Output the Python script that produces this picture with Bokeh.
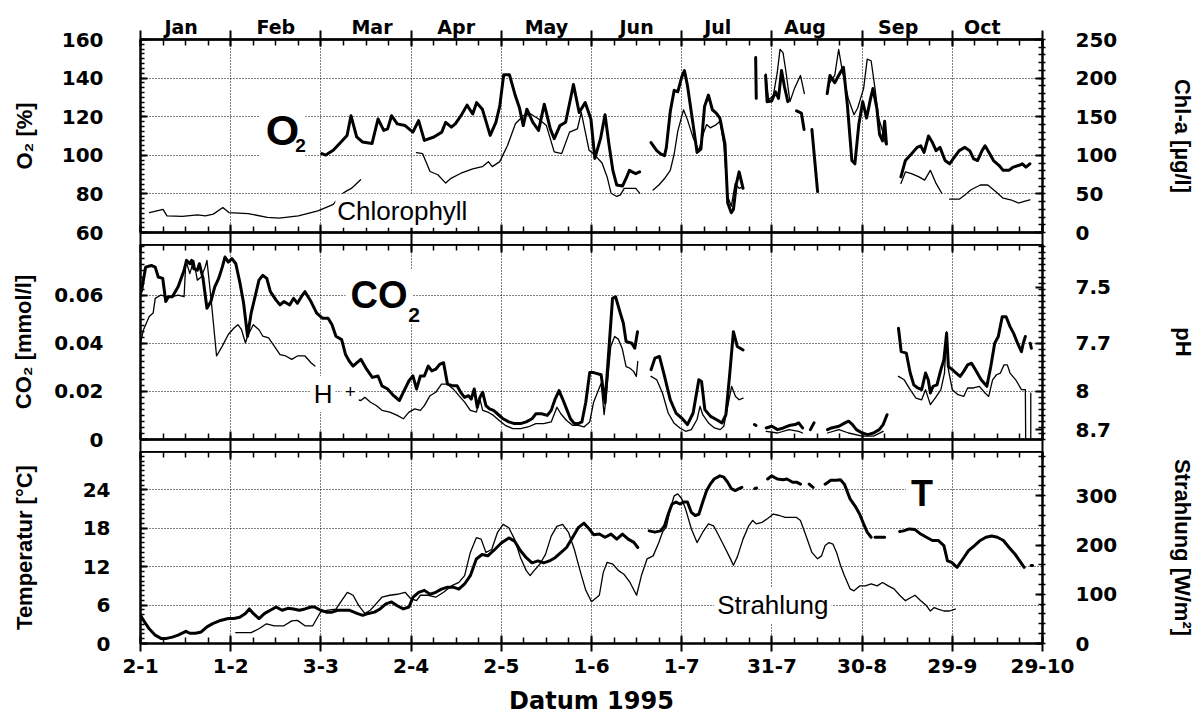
import math
from bokeh.plotting import figure
from bokeh.models import Range1d, LinearAxis, FixedTicker, Label
from bokeh.layouts import column
from bokeh.embed import file_html
from bokeh.resources import INLINE

NAN = float("nan")

# ---------------- ticks / labels ----------------
date_ticks = [2, 32, 62, 92, 122, 152, 182, 212, 242, 272, 302]
date_labels = ["2-1", "1-2", "3-3", "2-4", "2-5", "1-6", "1-7", "31-7", "30-8", "29-9", "29-10"]
months = ["Jan", "Feb", "Mar", "Apr", "May", "Jun", "Jul", "Aug", "Sep", "Oct"]
month_centre_day = [15.5, 47, 79, 107, 137, 167, 194, 223, 254, 282]

o2_ticks = [60, 80, 100, 120, 140, 160]
chl_ticks = [0, 50, 100, 150, 200, 250]
co2_ticks = [0, 0.02, 0.04, 0.06]
co2_tick_labels = ["0", "0.02", "0.04", "0.06"]
ph_values = [7.5, 7.7, 8.0, 8.7]
ph_tick_labels = ["7.5", "7.7", "8", "8.7"]
temp_ticks = [0, 6, 12, 18, 24]
rad_ticks = [0, 100, 200, 300]

# ---------------- series (day of year 1995, value) ----------------
o2_pct = [
    [(62.3, 100.9), (63.6, 100.1), (66.1, 102.6), (68.7, 106.9), (70.7, 110.3), (72.0, 120.5), (73.9, 109.5),
     (75.8, 106.9), (79.0, 106.1), (81.0, 118.8), (82.9, 112.9), (84.2, 113.7), (85.5, 120.5), (87.4, 116.3),
     (90.0, 115.4), (92.6, 112.0), (94.5, 118.0), (96.4, 107.7), (99.6, 109.5), (102.2, 112.0), (103.5, 117.1),
     (105.4, 114.6), (106.7, 116.3), (108.6, 120.5), (110.6, 126.0), (112.5, 121.4), (113.8, 127.3),
     (115.7, 123.9), (118.3, 110.3), (120.2, 117.1), (121.5, 125.6), (122.8, 141.8), (124.7, 141.8),
     (126.7, 130.7), (128.0, 124.8), (129.3, 115.4), (130.5, 123.9), (132.5, 117.1), (134.4, 112.9),
     (136.3, 126.5), (138.3, 113.7), (139.6, 108.6), (141.5, 115.4), (143.4, 117.1), (146.0, 136.7),
     (147.9, 122.2), (149.9, 127.3), (151.8, 118.8), (153.1, 98.4), (155.0, 108.6), (156.5, 121.0),
     (157.8, 105.8), (159.1, 92.2), (160.4, 84.6), (162.3, 84.1), (163.5, 88.0), (164.6, 92.2), (165.5, 91.4),
     (166.7, 90.5), (168.0, 91.4)],
    [(171.8, 106.6), (173.7, 102.4), (175.0, 100.7), (176.3, 99.8), (176.9, 104.1), (178.2, 122.7),
     (179.5, 133.7), (180.7, 132.9), (182.0, 140.5), (182.9, 143.9), (183.9, 136.3), (185.8, 115.9),
     (187.1, 101.5), (188.4, 103.2), (189.6, 125.3), (190.9, 131.2), (192.2, 123.6), (193.5, 121.9),
     (194.7, 119.3), (196.4, 105.8), (197.3, 75.3), (198.5, 70.2), (199.2, 71.9), (200.2, 85.4),
     (201.1, 91.4), (202.4, 82.9)],
    [(206.6, 150.7), (206.8, 129.5)],
    [(209.9, 141.4), (210.4, 127.8), (211.9, 128.1), (213.2, 132.9), (214.2, 129.5), (215.2, 143.9),
     (216.2, 135.4), (217.3, 127.8)],
    [(220.2, 123.0), (221.8, 121.9), (222.7, 113.4)],
    [(225.3, 113.4), (227.2, 81.2)],
    [(230.4, 132.0), (231.3, 141.4), (232.9, 137.6), (234.8, 143.0), (235.8, 145.6), (237.1, 126.1),
     (238.6, 97.3), (239.6, 95.6), (240.9, 115.9), (242.2, 127.8), (243.5, 119.3), (244.7, 128.6),
     (245.6, 134.6), (246.9, 124.4), (247.8, 110.8), (248.8, 107.5), (249.5, 117.6), (250.1, 105.8)],
    [(254.9, 88.8), (256.4, 97.3), (258.4, 100.7), (260.3, 104.1), (261.5, 104.9), (262.6, 101.5),
     (264.1, 110.0), (265.4, 106.6), (266.6, 102.4), (267.9, 104.1), (269.6, 97.3), (271.1, 95.6),
     (272.7, 99.0), (274.3, 102.4), (276.2, 104.1), (277.8, 102.4), (279.1, 98.1), (280.4, 97.3),
     (281.9, 102.4), (282.9, 104.9), (284.2, 101.5), (285.7, 97.3), (287.6, 94.7), (288.9, 92.2),
     (290.8, 92.2), (292.3, 93.9), (294.0, 94.7), (295.3, 95.6), (296.5, 93.9), (297.8, 95.6)],
]

chl_ugl = [
    [(5.0, 25.8), (9.5, 30.0), (10.8, 21.5), (15.9, 20.8), (21.0, 22.8), (23.6, 21.5), (26.2, 23.8),
     (29.4, 32.3), (31.4, 25.8), (37.8, 24.5), (44.2, 19.5), (48.1, 18.5), (54.5, 21.5), (61.0, 28.0),
     (63.6, 32.3), (66.1, 36.5), (68.7, 49.3), (70.7, 54.3), (72.0, 56.8), (73.2, 61.0), (75.2, 68.3)],
    [(93.8, 103.5), (95.8, 102.3), (98.3, 79.0), (100.9, 74.8), (103.5, 64.0), (105.4, 70.5), (108.6, 76.8),
     (112.5, 82.3), (115.7, 85.3), (117.7, 91.8), (119.0, 85.3), (121.5, 91.8), (124.1, 113.0),
     (126.7, 140.8), (129.3, 151.3), (131.8, 153.5), (134.4, 147.0), (137.0, 138.5), (139.6, 104.5),
     (142.1, 102.3), (144.7, 130.0), (147.3, 134.3), (148.6, 155.5), (151.2, 106.5), (153.1, 100.3),
     (155.5, 90.0), (157.2, 72.0), (158.5, 50.9), (160.4, 46.7), (161.6, 48.8), (162.9, 57.2),
     (164.8, 57.2), (166.7, 57.2), (168.0, 50.9)],
    [(172.5, 55.1), (174.4, 61.5), (176.3, 69.9), (178.2, 80.5), (179.5, 101.7), (180.7, 131.4),
     (182.6, 158.9), (183.9, 146.2), (185.8, 122.9), (187.7, 105.9), (189.3, 129.2), (190.3, 139.8),
     (191.5, 135.6), (193.5, 139.8), (194.7, 144.1), (196.0, 114.4), (197.3, 46.6), (198.5, 33.9),
     (199.8, 63.6), (201.1, 57.2), (202.4, 59.3)],
    [(210.0, 205.5), (210.9, 171.6), (212.5, 178.0), (213.8, 207.6), (214.7, 237.3), (215.7, 233.0),
     (216.7, 207.6), (218.0, 169.5), (219.5, 186.4), (221.5, 203.4), (222.8, 180.0)],
    [(231.0, 192.8), (232.9, 203.4), (234.2, 237.3), (235.5, 207.6), (237.4, 173.7), (239.3, 152.5),
     (240.5, 161.0), (242.5, 186.4), (243.7, 224.6), (245.0, 222.5), (246.3, 186.4), (247.5, 148.3),
     (248.8, 131.4), (249.8, 114.4)],
    [(254.9, 63.6), (256.4, 78.4), (258.4, 76.3), (260.9, 72.0), (262.8, 67.8), (264.7, 80.5),
     (266.6, 63.6), (268.5, 50.9)],
    [(271.1, 43.2), (274.3, 43.2), (276.2, 48.7), (278.1, 55.1), (281.3, 61.5), (283.8, 61.5),
     (286.4, 53.0), (288.9, 44.5), (291.4, 42.4), (294.0, 38.2), (295.9, 40.3), (297.8, 42.4)],
]

co2_mmol = [
    [(2.0, 0.0607), (2.4, 0.0621), (3.7, 0.0716), (5.6, 0.0723), (6.9, 0.0716), (7.9, 0.0675), (9.4, 0.0669),
     (10.4, 0.0573), (11.3, 0.0593), (12.6, 0.0593), (14.5, 0.0634), (16.5, 0.0703), (17.3, 0.0744),
     (18.4, 0.0730), (19.0, 0.0744), (19.7, 0.0710), (20.9, 0.0703), (21.6, 0.0730), (22.8, 0.0669),
     (24.1, 0.0545), (25.4, 0.0573), (26.7, 0.0634), (28.0, 0.0669), (29.2, 0.0716), (30.1, 0.0758),
     (31.2, 0.0737), (32.4, 0.0751), (33.7, 0.0730), (35.0, 0.0655), (36.3, 0.0566), (37.6, 0.0429),
     (38.8, 0.0525), (40.1, 0.0593), (41.4, 0.0662), (42.7, 0.0682), (44.0, 0.0669), (45.2, 0.0614),
     (47.1, 0.0579), (48.4, 0.0559), (49.7, 0.0573), (51.6, 0.0559), (52.9, 0.0586), (54.2, 0.0566),
     (55.5, 0.0593), (56.7, 0.0614), (58.7, 0.0573), (60.6, 0.0525), (62.5, 0.0504), (64.4, 0.0504),
     (65.7, 0.0477), (67.0, 0.0429), (68.9, 0.0415), (70.2, 0.0353), (71.4, 0.0326), (72.7, 0.0305),
     (74.0, 0.0319), (75.3, 0.0333), (77.2, 0.0292), (79.1, 0.0258), (81.0, 0.0264), (82.3, 0.0223),
     (84.2, 0.0210), (86.2, 0.0182), (88.1, 0.0162), (89.4, 0.0196), (91.3, 0.0244), (92.6, 0.0264),
     (93.8, 0.0210), (95.1, 0.0264), (96.4, 0.0264), (97.7, 0.0305), (98.9, 0.0285), (100.2, 0.0292),
     (101.5, 0.0312), (102.8, 0.0319), (104.1, 0.0230), (106.0, 0.0223), (107.3, 0.0223), (108.5, 0.0196),
     (109.8, 0.0175), (111.1, 0.0182), (112.0, 0.0168), (113.0, 0.0210), (114.0, 0.0134), (114.9, 0.0175),
     (115.8, 0.0196), (116.9, 0.0141), (118.1, 0.0127), (119.4, 0.0121), (120.7, 0.0107), (122.6, 0.0086),
     (124.5, 0.0073), (126.4, 0.0066), (128.4, 0.0066), (130.3, 0.0073), (132.2, 0.0086), (133.5, 0.0107),
     (135.4, 0.0107), (137.3, 0.0100), (138.6, 0.0121), (139.9, 0.0168), (141.2, 0.0203), (142.4, 0.0168),
     (143.7, 0.0127), (145.0, 0.0086), (146.3, 0.0066), (147.6, 0.0066), (148.8, 0.0073), (150.1, 0.0155),
     (151.4, 0.0278), (152.7, 0.0278), (155.2, 0.0269), (156.5, 0.0152), (157.7, 0.0359), (159.0, 0.0586),
     (160.0, 0.0593), (161.6, 0.0524), (162.6, 0.0483), (163.5, 0.0407), (165.4, 0.0400), (166.4, 0.0379),
     (167.3, 0.0448)],
    [(171.8, 0.0290), (173.1, 0.0338), (174.6, 0.0345), (176.3, 0.0262), (178.2, 0.0165), (180.1, 0.0110),
     (182.0, 0.0089), (183.9, 0.0062), (185.8, 0.0110), (187.7, 0.0248), (188.6, 0.0241), (189.7, 0.0124),
     (191.6, 0.0096), (193.5, 0.0083), (195.4, 0.0069), (196.7, 0.0103), (198.0, 0.0276), (199.2, 0.0448),
     (200.5, 0.0386), (202.4, 0.0372)],
    [(206.2, 0.0062), (206.7, 0.0058)],
    [(210.1, 0.0048), (212.0, 0.0055), (213.9, 0.0041), (215.8, 0.0048), (217.7, 0.0058), (219.7, 0.0062),
     (220.9, 0.0069), (222.2, 0.0048)],
    [(224.8, 0.0041), (226.0, 0.0069)],
    [(230.5, 0.0041), (231.8, 0.0048), (234.3, 0.0055), (236.3, 0.0069), (237.5, 0.0076), (238.8, 0.0062),
     (240.1, 0.0041), (242.0, 0.0027), (243.9, 0.0020), (245.8, 0.0027), (247.7, 0.0041), (249.0, 0.0062),
     (250.3, 0.0103)],
    [(254.1, 0.0462), (255.0, 0.0365), (256.7, 0.0359), (258.0, 0.0276), (259.2, 0.0227), (260.5, 0.0214),
     (261.8, 0.0207), (263.1, 0.0276), (264.0, 0.0248), (264.7, 0.0193), (265.6, 0.0221), (266.9, 0.0227),
     (268.2, 0.0290), (269.2, 0.0331), (270.1, 0.0441), (270.7, 0.0303), (272.0, 0.0290), (273.3, 0.0276),
     (274.6, 0.0262), (275.8, 0.0283), (277.1, 0.0310), (278.4, 0.0317), (279.7, 0.0290), (281.6, 0.0248),
     (283.5, 0.0221), (284.8, 0.0303), (286.1, 0.0400), (287.3, 0.0428), (288.6, 0.0510), (289.9, 0.0510),
     (291.2, 0.0469), (292.4, 0.0441), (293.7, 0.0400), (295.0, 0.0365), (295.6, 0.0400), (296.3, 0.0428)],
    [(297.9, 0.0400), (298.3, 0.0379)],
]

# H+ activity, drawn on the CO2 scale (pH 8 <-> 0.02)
hplus_scaled = [
    [(2.0, 0.0400), (3.0, 0.0456), (4.9, 0.0511), (6.2, 0.0525), (6.9, 0.0586), (8.8, 0.0600), (10.7, 0.0593),
     (12.6, 0.0593), (14.5, 0.0600), (16.5, 0.0593), (17.1, 0.0744), (18.4, 0.0689), (19.7, 0.0744),
     (20.9, 0.0662), (22.2, 0.0675), (23.5, 0.0716), (24.1, 0.0744), (25.4, 0.0593), (27.3, 0.0347),
     (29.2, 0.0388), (31.2, 0.0436), (33.1, 0.0463), (34.4, 0.0477), (35.6, 0.0456), (36.9, 0.0401),
     (37.6, 0.0429), (39.5, 0.0477), (41.4, 0.0456), (42.7, 0.0429), (44.6, 0.0422), (46.5, 0.0388),
     (48.4, 0.0353), (50.3, 0.0347), (52.3, 0.0333), (54.2, 0.0347), (56.7, 0.0347), (58.7, 0.0319),
     (60.0, 0.0305)],
    [(73.4, 0.0168), (75.3, 0.0162), (76.6, 0.0175), (78.5, 0.0155), (80.4, 0.0141), (82.3, 0.0121),
     (84.9, 0.0114), (87.4, 0.0100), (89.4, 0.0086), (91.3, 0.0114), (93.2, 0.0127), (95.1, 0.0121),
     (96.4, 0.0141), (98.3, 0.0182), (100.2, 0.0196), (102.1, 0.0230), (104.1, 0.0230), (106.0, 0.0210),
     (107.9, 0.0182), (109.8, 0.0155), (111.7, 0.0121), (113.7, 0.0114), (114.9, 0.0168), (115.8, 0.0121),
     (117.5, 0.0114), (119.4, 0.0100), (121.3, 0.0079), (123.3, 0.0059), (125.8, 0.0045), (128.4, 0.0045),
     (130.9, 0.0052), (133.5, 0.0066), (136.1, 0.0066), (138.6, 0.0073), (140.5, 0.0134), (141.8, 0.0107),
     (143.7, 0.0079), (145.7, 0.0059), (147.6, 0.0059), (149.5, 0.0052), (151.4, 0.0073), (152.7, 0.0155),
     (155.2, 0.0234), (156.2, 0.0103), (157.1, 0.0207), (158.4, 0.0386), (159.7, 0.0428), (160.9, 0.0417),
     (162.2, 0.0379), (163.5, 0.0303), (164.8, 0.0296), (166.0, 0.0283), (166.9, 0.0262), (167.4, 0.0324)],
    [(171.8, 0.0262), (173.7, 0.0248), (175.6, 0.0193), (177.5, 0.0110), (179.4, 0.0069), (181.4, 0.0048),
     (183.3, 0.0034), (185.2, 0.0041), (187.1, 0.0083), (188.1, 0.0138), (189.0, 0.0103), (190.9, 0.0069),
     (192.9, 0.0048), (194.8, 0.0041), (196.0, 0.0055), (197.3, 0.0138), (198.6, 0.0221), (199.9, 0.0179),
     (201.1, 0.0165), (202.4, 0.0172)],
    [(210.1, 0.0034), (213.9, 0.0027), (217.7, 0.0041), (220.9, 0.0034), (222.2, 0.0027)],
    [(230.5, 0.0027), (234.3, 0.0041), (237.5, 0.0027), (242.0, 0.0014), (245.8, 0.0014), (249.0, 0.0034)],
    [(254.1, 0.0262), (256.0, 0.0248), (258.0, 0.0207), (259.9, 0.0172), (261.8, 0.0165), (263.1, 0.0207),
     (264.7, 0.0145), (266.3, 0.0172), (268.2, 0.0207), (269.4, 0.0276), (270.1, 0.0448), (270.7, 0.0290),
     (272.0, 0.0207), (273.9, 0.0186), (275.8, 0.0179), (277.1, 0.0214), (279.0, 0.0214), (281.0, 0.0221),
     (282.9, 0.0193), (284.1, 0.0179), (285.4, 0.0248), (286.7, 0.0269), (288.0, 0.0276), (289.2, 0.0310),
     (290.3, 0.0310), (291.2, 0.0276), (293.1, 0.0248), (295.0, 0.0207), (296.3, 0.0207), (296.4, 0.0005)],
    [(298.1, 0.0193), (298.1, 0.0005)],
]

temp_c = [
    [(2.0, 4.4), (3.0, 3.6), (4.9, 2.3), (6.9, 1.3), (8.8, 0.8), (10.7, 0.8), (12.6, 1.0), (14.5, 1.3),
     (17.1, 1.9), (18.4, 1.6), (20.3, 1.6), (22.2, 1.8), (24.1, 2.6), (26.0, 3.1), (28.6, 3.6), (31.2, 3.9),
     (33.1, 3.9), (35.0, 4.1), (36.9, 4.7), (38.2, 5.4), (39.5, 4.7), (41.4, 3.9), (43.3, 4.7), (45.2, 5.2),
     (47.1, 5.7), (49.1, 5.2), (51.0, 5.5), (52.9, 5.4), (54.8, 5.2), (56.7, 5.4), (58.7, 5.7), (59.9, 5.7),
     (61.9, 5.2), (63.8, 4.9), (65.7, 4.9), (67.6, 5.2), (69.5, 5.2), (71.4, 5.2), (74.0, 4.7), (75.9, 4.4),
     (77.8, 4.7), (79.8, 4.9), (81.7, 5.4), (83.6, 6.2), (85.5, 6.5), (87.4, 5.9), (89.4, 5.4), (91.3, 5.7),
     (92.6, 7.2), (94.5, 8.0), (96.4, 8.3), (98.3, 7.7), (100.2, 8.0), (102.1, 8.5), (104.1, 8.8),
     (106.0, 8.8), (107.9, 8.5), (109.8, 9.3), (111.7, 10.6), (113.7, 13.2), (115.6, 13.9), (117.5, 13.7),
     (119.4, 14.5), (122.0, 15.7), (124.5, 16.5), (126.4, 16.0), (128.4, 14.5), (130.3, 13.4),
     (132.2, 12.6), (134.2, 12.9), (136.1, 12.6), (138.0, 12.9), (139.9, 13.4), (141.8, 14.2),
     (143.7, 15.0), (145.6, 16.5), (147.6, 18.1), (149.5, 18.8), (151.4, 17.8), (152.7, 17.0),
     (154.6, 17.1), (156.5, 16.6), (158.5, 17.1), (160.4, 16.3), (162.3, 17.1), (164.2, 16.3),
     (166.1, 15.8), (167.4, 15.0)],
    [(171.2, 17.6), (173.1, 17.4), (175.0, 17.6), (176.3, 18.4), (177.5, 20.2), (178.8, 21.8), (180.1, 22.1),
     (181.4, 21.8), (182.6, 22.1), (183.9, 22.1), (185.2, 20.5), (186.5, 20.0), (187.7, 20.2), (189.0, 22.1),
     (190.3, 23.9), (191.5, 24.9), (192.8, 25.7), (194.7, 26.2), (196.0, 26.0), (197.3, 25.2), (198.5, 24.2),
     (199.8, 23.9), (201.1, 24.2), (202.0, 24.4)],
    [(206.3, 24.2), (206.9, 24.3)],
    [(210.6, 25.7), (211.9, 26.2), (213.8, 25.7), (215.7, 25.6), (217.0, 25.7), (218.9, 25.2), (220.2, 25.2),
     (221.5, 24.9)],
    [(224.4, 24.9), (225.7, 24.4)],
    [(229.7, 24.9), (231.6, 25.5), (233.5, 25.5), (234.8, 25.6), (236.1, 24.9), (238.0, 22.6), (239.9, 21.3),
     (241.2, 20.2), (242.5, 18.7), (243.7, 17.4), (245.0, 16.6)],
    [(246.3, 16.6), (249.5, 16.6)],
    [(254.5, 17.5), (255.8, 17.6), (257.7, 17.9), (259.6, 17.8), (261.5, 17.1), (263.4, 16.6), (265.4, 16.1),
     (267.3, 16.1), (269.2, 15.3), (270.4, 12.9), (271.7, 12.7), (273.6, 11.9), (275.5, 13.2), (277.4, 14.5),
     (279.4, 15.3), (281.3, 16.1), (283.2, 16.6), (285.1, 16.8), (287.0, 16.6), (289.0, 16.1), (290.9, 15.0),
     (292.8, 14.0), (294.7, 12.7), (295.9, 11.9)],
    [(298.2, 12.2), (298.7, 12.2)],
]

rad_wm2 = [
    [(33.7, 22), (38.8, 22), (41.4, 30), (43.9, 40), (46.5, 36), (49.7, 36), (52.3, 46), (54.2, 47),
     (56.7, 36), (59.3, 36), (61.9, 64), (64.4, 68), (67.0, 70), (68.9, 87), (70.8, 104), (72.7, 98),
     (74.6, 77), (76.6, 61), (78.5, 68), (80.4, 81), (82.3, 94), (84.9, 98), (87.4, 100), (90.0, 104),
     (91.9, 91), (93.8, 87), (95.1, 98), (97.7, 98), (100.2, 94), (102.8, 104), (105.4, 117), (107.9, 124),
     (109.8, 138), (111.7, 185), (113.7, 215), (115.3, 212), (116.9, 185), (118.8, 191), (120.7, 225),
     (122.6, 242), (124.5, 235), (126.4, 212), (128.4, 174), (130.3, 148), (131.6, 138), (132.9, 148),
     (134.8, 161), (136.7, 181), (138.6, 218), (140.5, 238), (142.4, 242), (144.4, 225), (146.3, 191),
     (148.2, 148), (150.1, 108), (152.0, 85), (154.6, 98), (155.9, 144), (157.2, 165), (159.1, 161),
     (161.0, 148), (162.9, 140), (164.8, 124), (167.0, 98), (168.6, 138), (170.5, 172), (172.5, 178),
     (174.4, 205), (175.6, 226), (176.9, 237), (178.2, 273), (179.5, 300), (180.7, 304), (182.0, 294),
     (183.3, 273), (185.2, 233), (187.1, 205), (189.0, 226), (190.9, 243), (192.6, 239), (194.1, 222),
     (196.0, 199), (197.9, 176), (199.2, 159), (200.5, 176), (202.4, 212), (204.3, 239), (205.6, 250),
     (206.8, 243), (208.7, 246), (210.6, 254), (212.5, 263), (214.5, 260), (216.4, 256), (218.3, 256),
     (220.2, 256), (221.5, 250), (223.4, 218), (225.3, 185), (227.2, 172), (228.5, 178), (229.7, 199),
     (231.0, 205), (232.3, 202), (233.5, 185), (234.8, 159), (236.1, 138), (238.0, 111), (239.3, 107),
     (241.2, 117), (243.1, 117), (245.0, 121), (247.0, 117), (248.8, 124), (250.7, 117), (252.6, 111),
     (254.5, 98), (256.4, 87), (258.4, 94), (259.6, 98), (261.5, 87), (263.4, 77), (264.7, 66), (266.0, 73),
     (267.3, 70), (269.2, 66), (271.1, 66), (273.0, 70)],
]

# ---------------- helpers ----------------
BOLD_FONT = "DejaVu Sans"
TITLE_FONT = "Liberation Sans"
TEXT_FONT = "Liberation Sans"
x_range = Range1d(2, 302)
x_minor = [2 + 7.5 * i for i in range(41)]


def flatten(segments):
    xs, ys = [], []
    for k, seg in enumerate(segments):
        if k:
            xs.append(NAN)
            ys.append(NAN)
        for d, v in seg:
            xs.append(d)
            ys.append(v)
    return xs, ys


def make_fig(frame_h, y0, y1, border_top, border_bottom):
    p = figure(frame_width=902, frame_height=frame_h, x_range=x_range, y_range=Range1d(y0, y1),
               output_backend="svg", toolbar_location=None,
               min_border_left=140, min_border_right=150,
               min_border_top=border_top, min_border_bottom=border_bottom,
               outline_line_color="black", outline_line_width=2,
               background_fill_color="white", border_fill_color="white")
    return p


def base_axis(ax, major, minor):
    ax.ticker = FixedTicker(ticks=major, minor_ticks=minor)
    ax.axis_line_color = "black"
    ax.axis_line_width = 2
    ax.major_tick_line_color = "black"
    ax.major_tick_line_width = 2
    ax.minor_tick_line_color = "black"
    ax.minor_tick_line_width = 1.5


def tick_only_axis(ax, minor, m_in, m_out, width=1.5):
    # an axis that carries only tick marks (no labels)
    base_axis(ax, [], minor)
    ax.major_tick_in = 0
    ax.major_tick_out = 0
    ax.minor_tick_in = m_in
    ax.minor_tick_out = m_out
    ax.minor_tick_line_width = width
    ax.major_label_standoff = 0


def label_axis(ax, major, minor, t_in, t_out, m_in, m_out, overrides, standoff,
               title=None, title_standoff=0, title_size="22px", title_font=TITLE_FONT, label_size="20px"):
    base_axis(ax, major, minor)
    ax.major_tick_in = t_in
    ax.major_tick_out = t_out
    ax.minor_tick_in = m_in
    ax.minor_tick_out = m_out
    ax.major_label_overrides = overrides
    ax.major_label_text_font = BOLD_FONT
    ax.major_label_text_font_style = "bold"
    ax.major_label_text_font_size = label_size
    ax.major_label_text_color = "black"
    ax.major_label_standoff = standoff
    if title:
        ax.axis_label = title
        ax.axis_label_text_font = title_font
        ax.axis_label_text_font_style = "bold"
        ax.axis_label_text_font_size = title_size
        ax.axis_label_text_color = "black"
        ax.axis_label_standoff = title_standoff


def style_grid(p, yticks):
    p.xgrid.ticker = FixedTicker(ticks=date_ticks)
    p.ygrid.ticker = FixedTicker(ticks=yticks)
    for g in (p.xgrid, p.ygrid):
        g.grid_line_color = "black"
        g.grid_line_width = 1
        g.grid_line_dash = "1 2"


def add_text(p, x, y, text, size, bold=False, font=TEXT_FONT, bg=True, align="left", pad=3):
    # y is the vertical centre of the lettering
    lab = Label(x=x, y=y, text=text, text_font=font, text_font_size=size,
                text_font_style="bold" if bold else "normal", text_color="black",
                text_baseline="middle", text_align=align)
    if bg:
        lab.background_fill_color = "white"
        lab.padding = pad
    p.add_layout(lab)


def draw(p, segments, width, y_range_name="default"):
    xs, ys = flatten(segments)
    p.line(xs, ys, line_color="black", line_width=width, line_join="round", line_cap="round",
           y_range_name=y_range_name)


def inner_edge(p, side, long_out, first_axis=None):
    # short 7.5-day ticks nearest the frame, then long month-boundary ticks
    short = first_axis if first_axis is not None else LinearAxis()
    if first_axis is None:
        p.add_layout(short, side)
    tick_only_axis(short, x_minor, 6, 0)
    long_ax = LinearAxis()
    p.add_layout(long_ax, side)
    tick_only_axis(long_ax, date_ticks, 8, long_out, width=2)


date_over = {d: l for d, l in zip(date_ticks, date_labels)}

# ---------------- panel 1: O2 / Chl-a ----------------
p1 = make_fig(193, 60, 160, 39, 12)
p1.extra_y_ranges = {"chl": Range1d(0, 250)}
style_grid(p1, o2_ticks)
inner_edge(p1, "below", 12, first_axis=p1.below[0])
label_axis(p1.left[0], o2_ticks, [60 + 2.5 * i for i in range(41)], 7, 0, 4, 0,
           {v: str(v) for v in o2_ticks}, 37, title="O₂ [%]", title_standoff=22)
short_top1 = LinearAxis()
p1.add_layout(short_top1, "above")
tick_only_axis(short_top1, x_minor, 6, 0)
month_ax = LinearAxis()
p1.add_layout(month_ax, "above")
label_axis(month_ax, month_centre_day, date_ticks, 0, 0, 7, 9,
           {d: m for d, m in zip(month_centre_day, months)}, -7, label_size="19px")
month_ax.minor_tick_line_width = 2
r1 = LinearAxis(y_range_name="chl")
p1.add_layout(r1, "right")
label_axis(r1, chl_ticks, [10 * i for i in range(26)], 7, 0, 4, 3,
           {v: str(v) for v in chl_ticks}, 30, title="Chl-a [µg/l]", title_standoff=50)
draw(p1, chl_ugl, 1.3, "chl")
draw(p1, o2_pct, 3)
add_text(p1, 41.7, 113.1, "O", "43px", bold=True, pad=6)
add_text(p1, 53.5, 105.3, "2", "19px", bold=True, bg=False)
add_text(p1, 66.8, 71.3, "Chlorophyll", "26px", pad=2)

# ---------------- panel 2: CO2 / pH ----------------
co2_max = 0.081
p2 = make_fig(195, 0, co2_max, 0, 12)
style_grid(p2, co2_ticks)
co2_minor = [0.0025 * i for i in range(33)]
inner_edge(p2, "below", 12, first_axis=p2.below[0])
inner_edge(p2, "above", 0)
label_axis(p2.left[0], co2_ticks, co2_minor, 7, 0, 4, 0,
           {v: l for v, l in zip(co2_ticks, co2_tick_labels)}, 37,
           title="CO₂ [mmol/l]", title_standoff=15)
ph_pos = [0.02 * 10 ** (8.0 - ph) for ph in ph_values]
r2 = LinearAxis()
p2.add_layout(r2, "right")
label_axis(r2, ph_pos, co2_minor, 7, 0, 4, 3,
           {v: l for v, l in zip(ph_pos, ph_tick_labels)}, 30, title="pH", title_standoff=57)
draw(p2, hplus_scaled, 1.3)
draw(p2, co2_mmol, 3)
add_text(p2, 70.2, 0.0599, "CO", "38px", bold=True, pad=5)
add_text(p2, 90.4, 0.0517, "2", "21px", bold=True, pad=2)
add_text(p2, 58.6, 0.0189, "H", "26px", pad=3)
add_text(p2, 68.9, 0.0199, "+", "19px", pad=3)

# ---------------- panel 3: Temperatur / Strahlung ----------------
p3 = make_fig(192, 0, 30, 0, 72)
p3.extra_y_ranges = {"rad": Range1d(0, 390)}
style_grid(p3, temp_ticks)
label_axis(p3.below[0], date_ticks, x_minor, 8, 8, 6, 0, date_over, 7,
           title="Datum 1995", title_standoff=11, title_size="24px", title_font=BOLD_FONT)
inner_edge(p3, "above", 0)
label_axis(p3.left[0], temp_ticks, [0.75 * i for i in range(41)], 7, 0, 4, 0,
           {v: str(v) for v in temp_ticks}, 30, title="Temperatur [°C]", title_standoff=43)
r3 = LinearAxis(y_range_name="rad")
p3.add_layout(r3, "right")
label_axis(r3, rad_ticks, [20 * i for i in range(20)], 7, 0, 4, 3,
           {v: str(v) for v in rad_ticks}, 30, title="Strahlung [W/m²]", title_standoff=50)
draw(p3, rad_wm2, 1.3, "rad")
draw(p3, temp_c, 3)
add_text(p3, 256.6, 23.4, "T", "36px", bold=True, pad=5)
add_text(p3, 192.8, 6.0, "Strahlung", "26px", pad=3)

layout = column(p1, p2, p3)
open("out.html", "w").write(file_html(layout, INLINE, title="Datum 1995"))
